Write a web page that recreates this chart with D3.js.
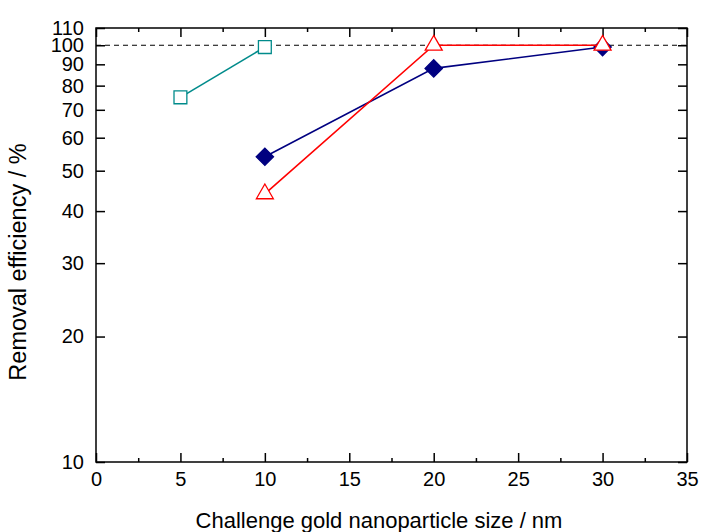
<!DOCTYPE html>
<html>
<head>
<meta charset="utf-8">
<script src="https://cdn.jsdelivr.net/npm/d3@7"></script>
<style>
  body { margin: 0; background: #fff; }
  svg { font-family: "Liberation Sans", Arial, sans-serif; }
</style>
</head>
<body>
<svg width="702" height="532"></svg>
<script>
// data
const sizeSquare = [5, 10];
const effSquare = [75, 99];
const sizeDiamond = [10, 20, 30];
const effDiamond = [54, 88, 99];
const sizeTriangle = [10, 20, 30];
const effTriangle = [44, 100, 100];
const yTicks = [10, 20, 30, 40, 50, 60, 70, 80, 90, 100, 110];
const xTicks = [0, 5, 10, 15, 20, 25, 30, 35];
const xMinor = [2.5, 7.5, 12.5, 17.5, 22.5, 27.5, 32.5];

const svg = d3.select("svg");
const area = { left: 96, top: 28, right: 687, bottom: 462 };

const scX = d3.scaleLinear().domain([0, 35]).range([area.left, area.right]);
const scY = d3.scaleLog().domain([10, 110]).range([area.bottom, area.top]);

// frame
svg.append("rect")
    .attr("x", area.left).attr("y", area.top)
    .attr("width", area.right - area.left).attr("height", area.bottom - area.top)
    .attr("fill", "none").attr("stroke", "#000").attr("stroke-width", 1.5);

// 100 % reference line
svg.append("line")
    .attr("x1", area.left).attr("x2", area.right)
    .attr("y1", scY(100)).attr("y2", scY(100))
    .attr("stroke", "#000").attr("stroke-width", 1)
    .attr("stroke-dasharray", "5,4");

// axes, ticks inward
svg.append("g")
    .attr("transform", `translate(0,${area.bottom})`)
    .call(d3.axisBottom(scX).tickValues(xTicks).tickSize(-9).tickPadding(10).tickFormat(d3.format("d")))
    .call(g => g.select(".domain").remove());
svg.append("g")
    .attr("transform", `translate(0,${area.bottom})`)
    .call(d3.axisBottom(scX).tickValues(xMinor).tickSize(-4).tickFormat(""))
    .call(g => g.select(".domain").remove());
svg.append("g")
    .attr("transform", `translate(0,${area.top})`)
    .call(d3.axisTop(scX).tickValues(xTicks).tickSize(-9).tickFormat(""))
    .call(g => g.select(".domain").remove());
svg.append("g")
    .attr("transform", `translate(0,${area.top})`)
    .call(d3.axisTop(scX).tickValues(xMinor).tickSize(-4).tickFormat(""))
    .call(g => g.select(".domain").remove());
svg.append("g")
    .attr("transform", `translate(${area.left},0)`)
    .call(d3.axisLeft(scY).tickValues(yTicks).tickSize(-9).tickPadding(12).tickFormat(d3.format("d")))
    .call(g => g.select(".domain").remove());
svg.append("g")
    .attr("transform", `translate(${area.right},0)`)
    .call(d3.axisRight(scY).tickValues(yTicks).tickSize(-9).tickFormat(""))
    .call(g => g.select(".domain").remove());

svg.selectAll(".tick line").attr("stroke", "#000").attr("stroke-width", 1.5);
svg.selectAll(".tick text")
    .attr("fill", "#000")
    .style("font-size", "20px")
    .style("font-family", "'Liberation Sans', Arial, sans-serif");

// axis titles
svg.append("text")
    .attr("x", 379).attr("y", 528)
    .attr("text-anchor", "middle")
    .style("font-size", "22px")
    .text("Challenge gold nanoparticle size / nm");
svg.append("text")
    .attr("transform", "translate(26,262) rotate(-90)")
    .attr("text-anchor", "middle")
    .style("font-size", "23.5px")
    .text("Removal efficiency / %");

function drawSeries(xs, ys, color, symbol, size, filled, angle) {
    const pts = xs.map((x, i) => [x, ys[i]]);
    svg.append("path")
        .datum(pts)
        .attr("fill", "none")
        .attr("stroke", color)
        .attr("stroke-width", 1.6)
        .attr("d", d3.line().x(d => scX(d[0])).y(d => scY(d[1])));
    svg.selectAll(null)
        .data(pts)
        .enter()
        .append("path")
        .attr("transform", d => `translate(${scX(d[0])},${scY(d[1])}) rotate(${angle})`)
        .attr("d", d3.symbol().type(symbol).size(size))
        .attr("fill", filled ? color : "#fff")
        .attr("stroke", color)
        .attr("stroke-width", 1.3);
}

drawSeries(sizeSquare, effSquare, "#008b8b", d3.symbolSquare, 165, false, 0);
drawSeries(sizeDiamond, effDiamond, "#000080", d3.symbolSquare, 150, true, 45);
drawSeries(sizeTriangle, effTriangle, "#ff0000", d3.symbolTriangle, 125, false, 0);
</script>
</body>
</html>
